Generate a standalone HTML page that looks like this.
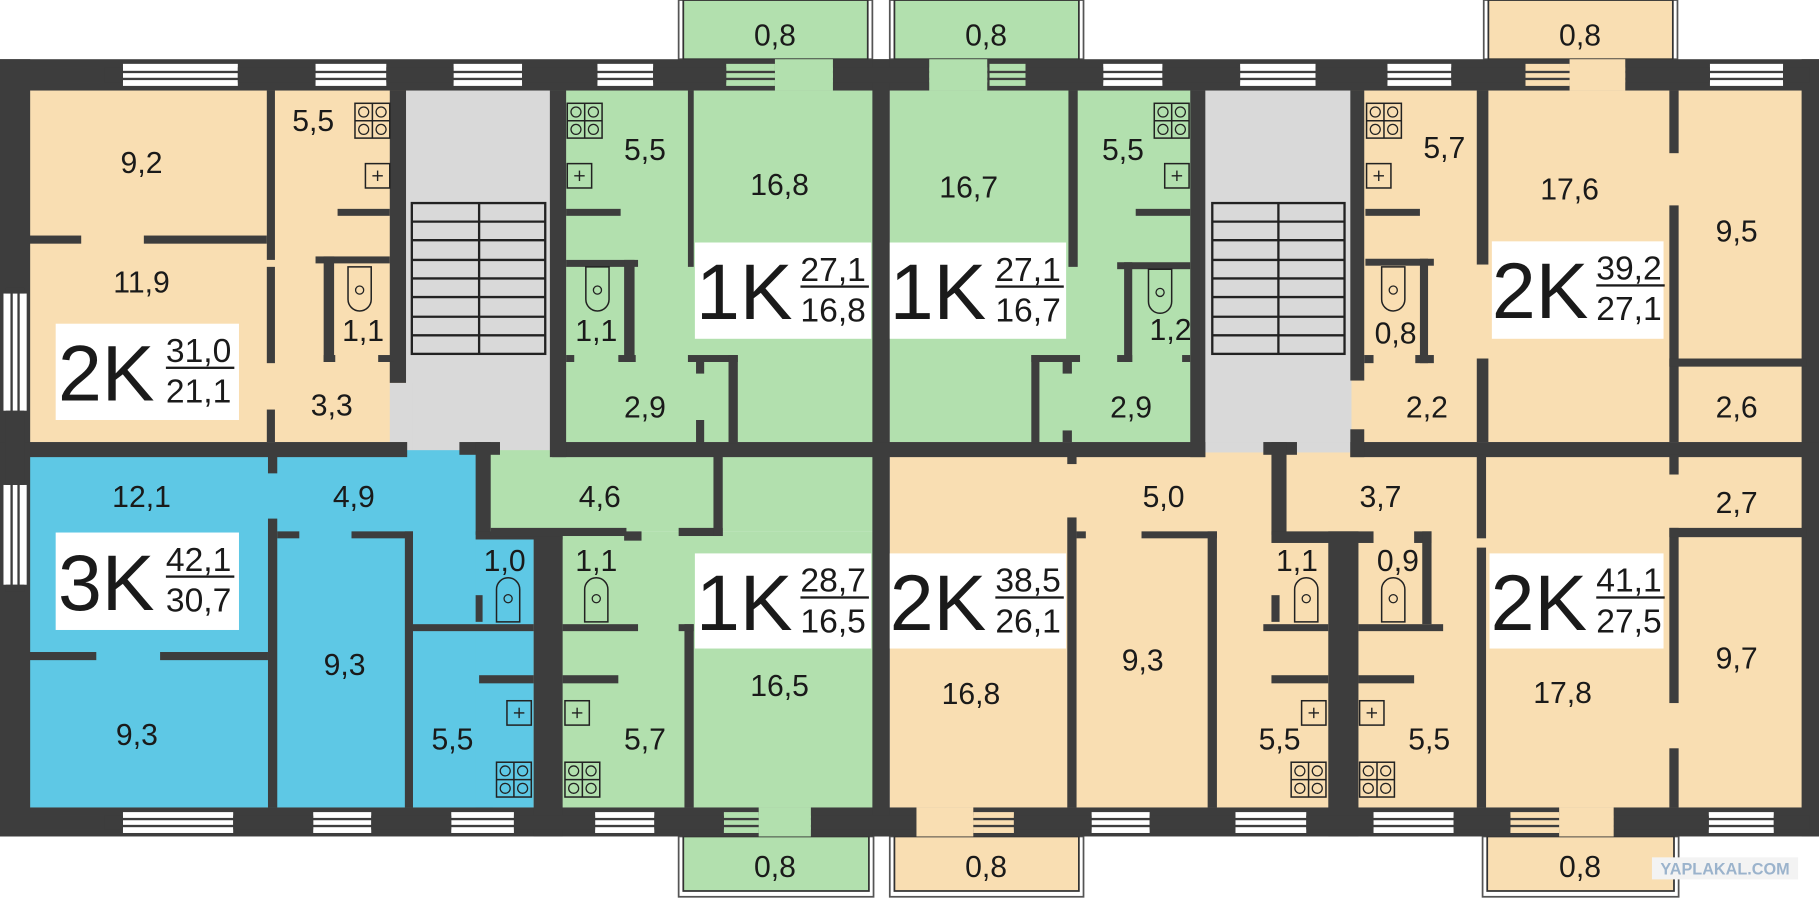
<!DOCTYPE html>
<html><head><meta charset="utf-8"><style>
html,body{margin:0;padding:0;background:#fff;}
svg{display:block;}
text{font-family:"Liberation Sans",Arial,sans-serif;fill:#1a1a1a;}
</style></head><body>
<svg width="1819" height="898" viewBox="0 0 1568 774" xmlns="http://www.w3.org/2000/svg">
<defs>
<g id="stove"><rect x="0" y="0" width="30" height="30" fill="none" stroke="#222" stroke-width="1.3"/><line x1="15" y1="0" x2="15" y2="30" stroke="#222" stroke-width="1.3"/><line x1="0" y1="15" x2="30" y2="15" stroke="#222" stroke-width="1.3"/><circle cx="7.5" cy="7.5" r="4.3" fill="none" stroke="#222" stroke-width="1.1"/><circle cx="22.5" cy="7.5" r="4.3" fill="none" stroke="#222" stroke-width="1.1"/><circle cx="7.5" cy="22.5" r="4.3" fill="none" stroke="#222" stroke-width="1.1"/><circle cx="22.5" cy="22.5" r="4.3" fill="none" stroke="#222" stroke-width="1.1"/></g>
<g id="sink"><rect x="0" y="0" width="21" height="21" fill="none" stroke="#222" stroke-width="1.3"/><line x1="10.5" y1="6" x2="10.5" y2="15" stroke="#222" stroke-width="1.2"/><line x1="6" y1="10.5" x2="15" y2="10.5" stroke="#222" stroke-width="1.2"/></g>
<g id="wcd"><path d="M0,0 H20 V28 A10,10 0 0 1 0,28 Z" fill="none" stroke="#222" stroke-width="1.3"/><circle cx="10" cy="20" r="3.5" fill="none" stroke="#222" stroke-width="1.1"/></g>
<g id="wcu"><path d="M0,38 H20 V10 A10,10 0 0 0 0,10 Z" fill="none" stroke="#222" stroke-width="1.3"/><circle cx="10" cy="18" r="3.5" fill="none" stroke="#222" stroke-width="1.1"/></g>
</defs>

<g stroke-width="1.5">
<rect x="585" y="0" width="167" height="51" fill="#fff" stroke="#555"/><rect x="589" y="0" width="159" height="51" fill="#b2e0ae" stroke="#333"/>
<rect x="767" y="0" width="167" height="51" fill="#fff" stroke="#555"/><rect x="771" y="0" width="159" height="51" fill="#b2e0ae" stroke="#333"/>
<rect x="1279" y="0" width="167" height="51" fill="#fff" stroke="#555"/><rect x="1283" y="0" width="159" height="51" fill="#f9deb2" stroke="#333"/>
<rect x="585" y="721" width="168" height="52" fill="#fff" stroke="#555"/><rect x="589" y="721" width="160" height="47" fill="#b2e0ae" stroke="#333"/>
<rect x="767" y="721" width="167" height="52" fill="#fff" stroke="#555"/><rect x="771" y="721" width="159" height="47" fill="#f9deb2" stroke="#333"/>
<rect x="1278" y="721" width="169" height="52" fill="#fff" stroke="#555"/><rect x="1282" y="721" width="161" height="47" fill="#f9deb2" stroke="#333"/>
</g>

<rect x="25" y="78" width="325" height="303" fill="#f9deb2"/>
<rect x="350" y="78" width="126" height="312" fill="#d9d9d9"/>
<rect x="336" y="330" width="20" height="60" fill="#d9d9d9"/>
<rect x="476" y="78" width="278" height="303" fill="#b2e0ae"/>
<rect x="767" y="78" width="262" height="303" fill="#b2e0ae"/>
<rect x="1029" y="78" width="140" height="312" fill="#d9d9d9"/>
<rect x="1165" y="78" width="392" height="303" fill="#f9deb2"/>
<rect x="25" y="388" width="400" height="308" fill="#5ec8e5"/>
<rect x="422" y="388" width="332" height="70" fill="#b2e0ae"/>
<rect x="460" y="458" width="294" height="238" fill="#b2e0ae"/>
<rect x="410" y="458" width="50" height="238" fill="#5ec8e5"/>
<rect x="767" y="388" width="790" height="308" fill="#f9deb2"/>
<rect x="1039" y="381" width="125" height="9" fill="#d9d9d9"/>

<g fill="#3d3d3d">
<rect x="0" y="51" width="1568" height="27"/>
<rect x="0" y="696" width="1568" height="25"/>
<rect x="0" y="51" width="26" height="670"/>
<rect x="1553" y="51" width="15" height="670"/>
<rect x="752" y="51" width="15" height="670"/>
<rect x="0" y="381" width="351" height="13"/>
<rect x="396" y="381" width="35" height="11"/>
<rect x="476" y="381" width="563" height="13"/>
<rect x="1089" y="381" width="29" height="11"/>
<rect x="1164" y="381" width="404" height="13"/>
<rect x="230" y="78" width="7" height="146"/>
<rect x="230" y="230" width="7" height="83"/>
<rect x="230" y="353" width="7" height="28"/>
<rect x="25" y="203" width="45" height="7"/>
<rect x="124" y="203" width="106" height="7"/>
<rect x="336" y="78" width="14" height="252"/>
<rect x="291" y="180" width="45" height="6"/>
<rect x="272" y="221" width="64" height="6"/>
<rect x="279" y="221" width="9" height="91"/>
<rect x="279" y="306" width="10" height="6"/>
<rect x="326" y="306" width="14" height="6"/>
<rect x="474" y="78" width="14" height="316"/>
<rect x="488" y="180" width="47" height="6"/>
<rect x="593" y="78" width="5" height="152"/>
<rect x="488" y="224" width="62" height="6"/>
<rect x="538" y="224" width="9" height="88"/>
<rect x="488" y="306" width="7" height="6"/>
<rect x="533" y="306" width="15" height="6"/>
<rect x="593" y="306" width="43" height="6"/>
<rect x="600" y="312" width="7" height="10"/>
<rect x="600" y="362" width="7" height="20"/>
<rect x="628" y="306" width="8" height="76"/>
<rect x="921" y="78" width="8" height="152"/>
<rect x="889" y="306" width="42" height="6"/>
<rect x="889" y="306" width="7" height="76"/>
<rect x="916" y="312" width="8" height="10"/>
<rect x="916" y="371" width="8" height="10"/>
<rect x="979" y="180" width="47" height="6"/>
<rect x="963" y="226" width="63" height="6"/>
<rect x="969" y="226" width="7" height="86"/>
<rect x="963" y="306" width="13" height="6"/>
<rect x="1019" y="306" width="7" height="6"/>
<rect x="1026" y="78" width="13" height="316"/>
<rect x="1164" y="78" width="12" height="250"/>
<rect x="1164" y="370" width="12" height="24"/>
<rect x="1177" y="180" width="47" height="6"/>
<rect x="1177" y="223" width="59" height="6"/>
<rect x="1224" y="223" width="7" height="90"/>
<rect x="1220" y="306" width="16" height="7"/>
<rect x="1176" y="306" width="8" height="7"/>
<rect x="1273" y="78" width="10" height="150"/>
<rect x="1273" y="309" width="10" height="72"/>
<rect x="1439" y="78" width="8" height="54"/>
<rect x="1439" y="177" width="8" height="204"/>
<rect x="1439" y="309" width="118" height="7"/>
<rect x="231" y="393" width="8" height="15"/>
<rect x="231" y="447" width="8" height="249"/>
<rect x="25" y="562" width="58" height="7"/>
<rect x="138" y="562" width="93" height="7"/>
<rect x="239" y="458" width="19" height="6"/>
<rect x="303" y="458" width="53" height="6"/>
<rect x="349" y="458" width="7" height="238"/>
<rect x="410" y="381" width="13" height="80"/>
<rect x="410" y="458" width="75" height="7"/>
<rect x="410" y="513" width="6" height="23"/>
<rect x="356" y="538" width="104" height="6"/>
<rect x="460" y="458" width="25" height="263"/>
<rect x="413" y="582" width="47" height="7"/>
<rect x="485" y="582" width="48" height="7"/>
<rect x="423" y="455" width="117" height="7"/>
<rect x="585" y="455" width="38" height="7"/>
<rect x="615" y="393" width="8" height="69"/>
<rect x="538" y="458" width="15" height="8"/>
<rect x="485" y="538" width="65" height="6"/>
<rect x="590" y="538" width="8" height="158"/>
<rect x="585" y="538" width="13" height="6"/>
<rect x="920" y="393" width="8" height="7"/>
<rect x="920" y="446" width="8" height="250"/>
<rect x="928" y="458" width="8" height="6"/>
<rect x="984" y="458" width="65" height="6"/>
<rect x="1041" y="458" width="8" height="238"/>
<rect x="1096" y="381" width="13" height="80"/>
<rect x="1096" y="458" width="88" height="10"/>
<rect x="1219" y="458" width="15" height="10"/>
<rect x="1096" y="513" width="7" height="23"/>
<rect x="1145" y="458" width="26" height="263"/>
<rect x="1089" y="538" width="56" height="6"/>
<rect x="1171" y="538" width="73" height="6"/>
<rect x="1226" y="458" width="8" height="80"/>
<rect x="1096" y="582" width="49" height="7"/>
<rect x="1171" y="582" width="48" height="7"/>
<rect x="1273" y="392" width="8" height="72"/>
<rect x="1273" y="472" width="8" height="224"/>
<rect x="1439" y="392" width="8" height="17"/>
<rect x="1439" y="455" width="8" height="151"/>
<rect x="1439" y="645" width="8" height="51"/>
<rect x="1439" y="455" width="118" height="8"/>
</g>

<rect x="668" y="51" width="50" height="27" fill="#b2e0ae"/>
<rect x="801" y="51" width="50" height="27" fill="#b2e0ae"/>
<rect x="1353" y="51" width="48" height="27" fill="#f9deb2"/>
<rect x="654" y="696" width="45" height="25" fill="#b2e0ae"/>
<rect x="790" y="696" width="49" height="25" fill="#f9deb2"/>
<rect x="1344" y="696" width="47" height="25" fill="#f9deb2"/>

<g>
<g fill="#fff">
<rect x="106" y="55" width="99" height="19"/><rect x="272" y="55" width="61" height="19"/><rect x="391" y="55" width="59" height="19"/><rect x="515" y="55" width="48" height="19"/><rect x="951" y="55" width="51" height="19"/><rect x="1069" y="55" width="65" height="19"/><rect x="1196" y="55" width="55" height="19"/><rect x="1474" y="55" width="63" height="19"/>
<rect x="106" y="700" width="95" height="18"/><rect x="270" y="700" width="50" height="18"/><rect x="389" y="700" width="54" height="18"/><rect x="513" y="700" width="51" height="18"/><rect x="941" y="700" width="50" height="18"/><rect x="1065" y="700" width="61" height="18"/><rect x="1184" y="700" width="69" height="18"/><rect x="1473" y="700" width="56" height="18"/>
<rect x="3" y="253" width="20" height="101"/><rect x="3" y="418" width="20" height="86"/>
</g>
<rect x="626" y="55" width="42" height="19" fill="#b2e0ae"/><rect x="853" y="55" width="31" height="19" fill="#b2e0ae"/><rect x="1315" y="55" width="38" height="19" fill="#f9deb2"/>
<rect x="624" y="700" width="30" height="18" fill="#b2e0ae"/><rect x="839" y="700" width="35" height="18" fill="#f9deb2"/><rect x="1302" y="700" width="42" height="18" fill="#f9deb2"/>
<g fill="#3d3d3d">
<rect x="100" y="61" width="1460" height="2"/><rect x="100" y="67" width="1460" height="2"/>
<rect x="100" y="705" width="1460" height="2"/><rect x="100" y="711" width="1460" height="2"/>
<rect x="9" y="250" width="2" height="258"/><rect x="15" y="250" width="2" height="258"/>
</g>
<g fill="#3d3d3d">
<rect x="205" y="58" width="67" height="13"/><rect x="333" y="58" width="58" height="13"/><rect x="450" y="58" width="65" height="13"/><rect x="563" y="58" width="63" height="13"/><rect x="718" y="58" width="83" height="13"/><rect x="884" y="58" width="67" height="13"/><rect x="1002" y="58" width="67" height="13"/><rect x="1134" y="58" width="62" height="13"/><rect x="1251" y="58" width="64" height="13"/><rect x="1401" y="58" width="73" height="13"/><rect x="1537" y="58" width="23" height="13"/>
<rect x="201" y="703" width="69" height="12"/><rect x="320" y="703" width="69" height="12"/><rect x="443" y="703" width="70" height="12"/><rect x="564" y="703" width="60" height="12"/><rect x="699" y="703" width="91" height="12"/><rect x="874" y="703" width="67" height="12"/><rect x="991" y="703" width="74" height="12"/><rect x="1126" y="703" width="58" height="12"/><rect x="1253" y="703" width="49" height="12"/><rect x="1391" y="703" width="82" height="12"/><rect x="1529" y="703" width="31" height="12"/>
<rect x="5" y="354" width="16" height="64"/><rect x="5" y="504" width="16" height="6"/><rect x="5" y="248" width="16" height="5"/>
</g>
<g fill="#b2e0ae"><rect x="668" y="58" width="50" height="13"/><rect x="801" y="58" width="50" height="13"/><rect x="654" y="703" width="45" height="12"/></g>
<g fill="#f9deb2"><rect x="1353" y="58" width="48" height="13"/><rect x="790" y="703" width="49" height="12"/><rect x="1344" y="703" width="47" height="12"/></g>
<g fill="#3d3d3d"><rect x="90" y="58" width="16" height="13"/><rect x="90" y="703" width="16" height="12"/></g>
</g>

<g fill="none" stroke="#222" stroke-width="2">
<rect x="355" y="175" width="115" height="130"/><line x1="413" y1="175" x2="413" y2="305"/>
<line x1="355" y1="191" x2="470" y2="191"/><line x1="355" y1="207" x2="470" y2="207"/><line x1="355" y1="224" x2="470" y2="224"/><line x1="355" y1="240" x2="470" y2="240"/><line x1="355" y1="256" x2="470" y2="256"/><line x1="355" y1="273" x2="470" y2="273"/><line x1="355" y1="289" x2="470" y2="289"/>
<rect x="1045" y="175" width="114" height="130"/><line x1="1102" y1="175" x2="1102" y2="305"/>
<line x1="1045" y1="191" x2="1159" y2="191"/><line x1="1045" y1="207" x2="1159" y2="207"/><line x1="1045" y1="224" x2="1159" y2="224"/><line x1="1045" y1="240" x2="1159" y2="240"/><line x1="1045" y1="256" x2="1159" y2="256"/><line x1="1045" y1="273" x2="1159" y2="273"/><line x1="1045" y1="289" x2="1159" y2="289"/>
</g>

<use href="#stove" x="306" y="89"/><use href="#stove" x="489" y="89"/><use href="#stove" x="995" y="89"/><use href="#stove" x="1178" y="89"/>
<use href="#stove" x="428" y="657"/><use href="#stove" x="487" y="657"/><use href="#stove" x="1113" y="657"/><use href="#stove" x="1172" y="657"/>
<use href="#sink" x="315" y="141"/><use href="#sink" x="489" y="141"/><use href="#sink" x="1004" y="141"/><use href="#sink" x="1178" y="141"/>
<use href="#sink" x="437" y="604"/><use href="#sink" x="487" y="604"/><use href="#sink" x="1122" y="604"/><use href="#sink" x="1172" y="604"/>
<use href="#wcd" x="300" y="230"/><use href="#wcd" x="505" y="230"/><use href="#wcd" x="990" y="232"/><use href="#wcd" x="1191" y="230"/>
<use href="#wcu" x="428" y="498"/><use href="#wcu" x="504" y="498"/><use href="#wcu" x="1116" y="498"/><use href="#wcu" x="1191" y="498"/>

<g font-size="26" text-anchor="middle">
<text x="668" y="39">0,8</text><text x="850" y="39">0,8</text><text x="1362" y="39">0,8</text>
<text x="668" y="756">0,8</text><text x="850" y="756">0,8</text><text x="1362" y="756">0,8</text>
<text x="122" y="149">9,2</text><text x="270" y="113">5,5</text><text x="122" y="252">11,9</text><text x="313" y="294">1,1</text><text x="286" y="358">3,3</text>
<text x="556" y="138">5,5</text><text x="672" y="168">16,8</text><text x="514" y="294">1,1</text><text x="556" y="360">2,9</text>
<text x="835" y="170">16,7</text><text x="968" y="138">5,5</text><text x="1009" y="293">1,2</text><text x="975" y="360">2,9</text>
<text x="1245" y="136">5,7</text><text x="1353" y="172">17,6</text><text x="1497" y="208">9,5</text><text x="1203" y="296">0,8</text><text x="1230" y="360">2,2</text><text x="1497" y="360">2,6</text>
<text x="122" y="437">12,1</text><text x="305" y="437">4,9</text><text x="517" y="437">4,6</text><text x="435" y="492">1,0</text><text x="514" y="492">1,1</text>
<text x="297" y="582">9,3</text><text x="118" y="642">9,3</text><text x="390" y="646">5,5</text><text x="556" y="646">5,7</text><text x="672" y="600">16,5</text>
<text x="837" y="607">16,8</text><text x="1003" y="437">5,0</text><text x="985" y="578">9,3</text><text x="1190" y="437">3,7</text><text x="1118" y="492">1,1</text><text x="1205" y="492">0,9</text>
<text x="1103" y="646">5,5</text><text x="1232" y="646">5,5</text><text x="1347" y="606">17,8</text><text x="1497" y="442">2,7</text><text x="1497" y="576">9,7</text>
</g>

<g>
<rect x="48" y="279" width="158" height="83" fill="#fff"/><text x="50" y="345" font-size="68">2K</text><text x="143" y="312" font-size="29">31,0</text><rect x="143" y="316" width="59" height="2" fill="#1a1a1a"/><text x="143" y="347" font-size="29">21,1</text>
<rect x="599" y="209" width="152" height="83" fill="#fff"/><text x="600" y="275" font-size="68">1K</text><text x="690" y="242" font-size="29">27,1</text><rect x="690" y="246" width="59" height="2" fill="#1a1a1a"/><text x="690" y="277" font-size="29">16,8</text>
<rect x="767" y="209" width="152" height="83" fill="#fff"/><text x="767" y="275" font-size="68">1K</text><text x="858" y="242" font-size="29">27,1</text><rect x="858" y="246" width="59" height="2" fill="#1a1a1a"/><text x="858" y="277" font-size="29">16,7</text>
<rect x="1286" y="208" width="148" height="84" fill="#fff"/><text x="1286" y="274" font-size="68">2K</text><text x="1376" y="241" font-size="29">39,2</text><rect x="1376" y="245" width="59" height="2" fill="#1a1a1a"/><text x="1376" y="276" font-size="29">27,1</text>
<rect x="48" y="459" width="158" height="84" fill="#fff"/><text x="50" y="526" font-size="68">3K</text><text x="143" y="492" font-size="29">42,1</text><rect x="143" y="496" width="59" height="2" fill="#1a1a1a"/><text x="143" y="527" font-size="29">30,7</text>
<rect x="599" y="477" width="152" height="82" fill="#fff"/><text x="600" y="543" font-size="68">1K</text><text x="690" y="510" font-size="29">28,7</text><rect x="690" y="514" width="59" height="2" fill="#1a1a1a"/><text x="690" y="545" font-size="29">16,5</text>
<rect x="767" y="477" width="152" height="82" fill="#fff"/><text x="767" y="543" font-size="68">2K</text><text x="858" y="510" font-size="29">38,5</text><rect x="858" y="514" width="59" height="2" fill="#1a1a1a"/><text x="858" y="545" font-size="29">26,1</text>
<rect x="1284" y="477" width="150" height="82" fill="#fff"/><text x="1285" y="543" font-size="68">2K</text><text x="1376" y="510" font-size="29">41,1</text><rect x="1376" y="514" width="59" height="2" fill="#1a1a1a"/><text x="1376" y="545" font-size="29">27,5</text>
</g>

<rect x="1424" y="739" width="126" height="19" fill="#f3f3f3"/>
<text x="1487" y="754" font-size="14" font-weight="bold" text-anchor="middle" style="fill:#9bb3cc">YAPLAKAL.COM</text>
</svg>
</body></html>
